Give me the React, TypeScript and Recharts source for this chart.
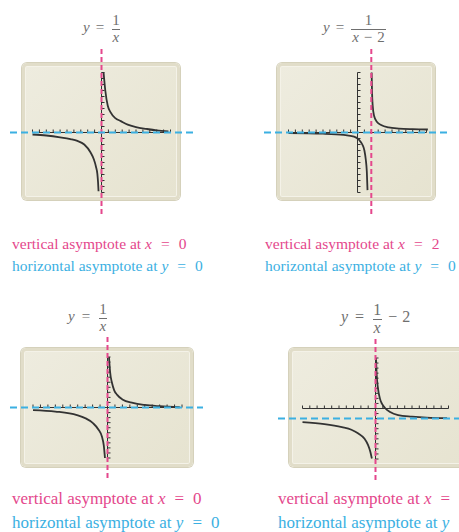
import React from "react";
import { LineChart, Line, XAxis, YAxis, ReferenceLine } from "recharts";

// calculator screen ticks, one per unit
const AXIS_TICKS = [-10, -9, -8, -7, -6, -5, -4, -3, -2, -1, 1, 2, 3, 4, 5, 6, 7, 8, 9, 10];

// y = 1/x (top left) in window units
const p1Upper: [number, number][] = [
  [0.3, 10], [0.55, 7], [0.9, 4.5], [1.3, 3.4], [2, 2.4], [2.8, 1.9],
  [3.8, 1.3], [5, 0.9], [6.5, 0.6], [8, 0.35], [9.7, 0.2],
];
const p1Lower: [number, number][] = [
  [-10, -0.33], [-8, -0.5], [-6, -0.8], [-4.5, -1.1], [-3.5, -1.4], [-2.5, -2],
  [-1.6, -3.3], [-1.1, -4.5], [-0.8, -5.7], [-0.6, -6.9], [-0.5, -8.3], [-0.43, -9.8],
];

// y = 1/(x - 2) (top right)
const p2Upper: [number, number][] = [
  [2.05, 10], [2.1, 7], [2.2, 4.5], [2.4, 2.8], [2.8, 1.8], [3.5, 1.2],
  [4.5, 0.85], [6, 0.65], [8, 0.55], [10.2, 0.5],
];
const p2Lower: [number, number][] = [
  [-10, -0.1], [-5, -0.2], [-2, -0.4], [-0.5, -0.7], [0.2, -1.2], [0.7, -2],
  [1.0, -3], [1.2, -4.5], [1.35, -6.5], [1.45, -9.6],
];

// y = 1/x (bottom left, wider screen)
const p3Upper: [number, number][] = [
  [0.2, 10], [0.35, 7], [0.6, 4.9], [0.9, 3.4], [1.3, 2.5], [2, 1.6],
  [3.4, 0.9], [5, 0.5], [7, 0.25], [9.7, 0.05],
];
const p3Lower: [number, number][] = [
  [-10, -0.5], [-7, -0.8], [-4.1, -1.5], [-3, -2.1], [-1.95, -3.1],
  [-1.2, -4.4], [-0.74, -5.8], [-0.5, -7.5], [-0.34, -10],
];

// y = 1/x - 2 (bottom right)
const p4Upper: [number, number][] = [
  [0.07, 10], [0.15, 7], [0.34, 4], [0.6, 2], [0.9, 0.9], [1.3, 0.1],
  [2, -0.7], [3.1, -1.3], [5, -1.6], [7, -1.8], [9.8, -1.9],
];
const p4Lower: [number, number][] = [
  [-10, -2.7], [-7, -3.1], [-4.6, -3.7], [-3.3, -4.2], [-2.4, -4.9],
  [-1.5, -6], [-1.03, -7.2], [-0.7, -8.6], [-0.5, -9.9],
];

// asymptotes [vertical x, horizontal y]
const asymptotes: [number, number][] = [[0, 0], [2, 0], [0, 0], [0, -2]];

const PINK = "#e4478c";
const BLUE = "#3bb0e2";
const INK = "#333";
const GRAY = "#6f6f6f";

type Rect = { left: number; top: number; width: number; height: number };
type PanelCfg = {
  chart: Rect;
  box: Rect;
  ox: number;
  oy: number;
  sx: number;
  sy: number;
  upper: [number, number][];
  lower: [number, number][];
  asym: [number, number];
};

const panels: PanelCfg[] = [
  {
    chart: { left: 10, top: 48, width: 184, height: 166 },
    box: { left: 22, top: 63, width: 158, height: 137 },
    ox: 101.5, oy: 132.5, sx: 6.9, sy: 6,
    upper: p1Upper, lower: p1Lower, asym: asymptotes[0],
  },
  {
    chart: { left: 264, top: 48, width: 184, height: 166 },
    box: { left: 277, top: 63, width: 158, height: 137 },
    ox: 357.5, oy: 132.5, sx: 6.9, sy: 6,
    upper: p2Upper, lower: p2Lower, asym: asymptotes[1],
  },
  {
    chart: { left: 10, top: 336, width: 193, height: 142 },
    box: { left: 21, top: 348, width: 172, height: 119 },
    ox: 107.5, oy: 407.5, sx: 7.45, sy: 5.05,
    upper: p3Upper, lower: p3Lower, asym: asymptotes[2],
  },
  {
    chart: { left: 278, top: 336, width: 181, height: 144 },
    box: { left: 289, top: 348, width: 190, height: 119 },
    ox: 375.5, oy: 408.5, sx: 7.3, sy: 5.05,
    upper: p4Upper, lower: p4Lower, asym: asymptotes[3],
  },
];

const toPts = (arr: [number, number][]) => arr.map(([x, y]) => ({ x, y }));

function Panel({ cfg }: { cfg: PanelCfg }) {
  const { chart, box, ox, oy, sx, sy } = cfg;
  const xDomain = [(chart.left - ox) / sx, (chart.left + chart.width - ox) / sx];
  const yDomain = [(oy - chart.top - chart.height) / sy, (oy - chart.top) / sy];
  const tx = 3 / sx;
  const ty = 3 / sy;
  return (
    <>
      <div
        style={{
          position: "absolute",
          left: box.left,
          top: box.top,
          width: box.width,
          height: box.height,
          boxSizing: "border-box",
          background: "linear-gradient(135deg, #eeecdf, #e6e3d0)",
          border: "3px solid #e1ddc9",
          boxShadow: "0 0 0 1px #d5d1bb, inset 0 0 0 1px #f4f2e8",
          borderRadius: 5,
        }}
      />
      <div style={{ position: "absolute", left: chart.left, top: chart.top }}>
        <LineChart width={chart.width} height={chart.height} margin={{ top: 0, right: 0, bottom: 0, left: 0 }}>
          <XAxis type="number" dataKey="x" domain={xDomain} hide allowDataOverflow />
          <YAxis type="number" dataKey="y" domain={yDomain} hide allowDataOverflow />
          <ReferenceLine segment={[{ x: -10, y: 0 }, { x: 10, y: 0 }]} stroke={INK} strokeWidth={1} />
          <ReferenceLine segment={[{ x: 0, y: -10 }, { x: 0, y: 10 }]} stroke={INK} strokeWidth={1} />
          {AXIS_TICKS.map((t) => (
            <ReferenceLine key={"h" + t} segment={[{ x: t, y: 0 }, { x: t, y: ty }]} stroke={INK} strokeWidth={1} />
          ))}
          {AXIS_TICKS.map((t) => (
            <ReferenceLine key={"v" + t} segment={[{ x: 0, y: t }, { x: tx, y: t }]} stroke={INK} strokeWidth={1} />
          ))}
          <Line data={toPts(cfg.upper)} dataKey="y" type="monotone" dot={false} stroke={INK} strokeWidth={1.8} isAnimationActive={false} />
          <Line data={toPts(cfg.lower)} dataKey="y" type="monotone" dot={false} stroke={INK} strokeWidth={1.8} isAnimationActive={false} />
          <ReferenceLine x={cfg.asym[0]} stroke={PINK} strokeWidth={2} strokeDasharray="5 3" />
          <ReferenceLine y={cfg.asym[1]} stroke={BLUE} strokeWidth={2} strokeDasharray="7 4" />
        </LineChart>
      </div>
    </>
  );
}

function Frac({ num, den }: { num: React.ReactNode; den: React.ReactNode }) {
  return (
    <span style={{ display: "inline-flex", flexDirection: "column", alignItems: "center", verticalAlign: "middle", margin: "0 1px" }}>
      <span style={{ lineHeight: 1, padding: "0 1px 1px" }}>{num}</span>
      <span style={{ lineHeight: 0.95, padding: "0 1px", borderTop: `1px solid ${GRAY}` }}>{den}</span>
    </span>
  );
}

function Title({ left, top, size, children }: { left: number; top: number; size: number; children: React.ReactNode }) {
  return (
    <div style={{ position: "absolute", left, top, fontSize: size, color: GRAY, whiteSpace: "nowrap", lineHeight: 1 }}>
      {children}
    </div>
  );
}

function Label({ left, top, size, color, children }: { left: number; top: number; size: number; color: string; children: React.ReactNode }) {
  return (
    <div style={{ position: "absolute", left, top, fontSize: size, lineHeight: `${size}px`, color, whiteSpace: "nowrap" }}>
      {children}
    </div>
  );
}

const eq = (m: number) => <span style={{ margin: `0 ${m}px` }}>=</span>;
const minus = <span style={{ margin: "0 5px" }}>−</span>;

export default function App() {
  return (
    <div
      style={{
        position: "absolute",
        left: 0,
        top: 0,
        width: 459,
        height: 532,
        overflow: "hidden",
        background: "#fff",
        fontFamily: '"Liberation Serif", "Times New Roman", serif',
      }}
    >
      {panels.map((p, i) => (
        <Panel key={i} cfg={p} />
      ))}

      <Title left={83} top={13} size={15}>
        <i>y</i>{eq(6)}<Frac num="1" den={<i>x</i>} />
      </Title>
      <Title left={323} top={13} size={15}>
        <i>y</i>{eq(6)}<Frac num="1" den={<span><i>x</i>{minus}2</span>} />
      </Title>
      <Title left={68} top={302} size={15}>
        <i>y</i>{eq(7)}<Frac num="1" den={<i>x</i>} />
      </Title>
      <Title left={341} top={302} size={16}>
        <i>y</i>{eq(7)}<Frac num="1" den={<i>x</i>} />{minus}2
      </Title>

      <Label left={12} top={236} size={15.5} color={PINK}>vertical asymptote at <i>x</i>{eq(9)}0</Label>
      <Label left={12} top={258} size={15.5} color={BLUE}>horizontal asymptote at <i>y</i>{eq(9)}0</Label>
      <Label left={265} top={236} size={15.5} color={PINK}>vertical asymptote at <i>x</i>{eq(9)}2</Label>
      <Label left={265} top={258} size={15.5} color={BLUE}>horizontal asymptote at <i>y</i>{eq(9)}0</Label>
      <Label left={12} top={490} size={17} color={PINK}>vertical asymptote at <i>x</i>{eq(9)}0</Label>
      <Label left={12} top={514} size={17} color={BLUE}>horizontal asymptote at <i>y</i>{eq(9)}0</Label>
      <Label left={278} top={490} size={17} color={PINK}>vertical asymptote at <i>x</i>{eq(9)}0</Label>
      <Label left={278} top={514} size={17} color={BLUE}>horizontal asymptote at <i>y</i>{eq(9)}−2</Label>
    </div>
  );
}
